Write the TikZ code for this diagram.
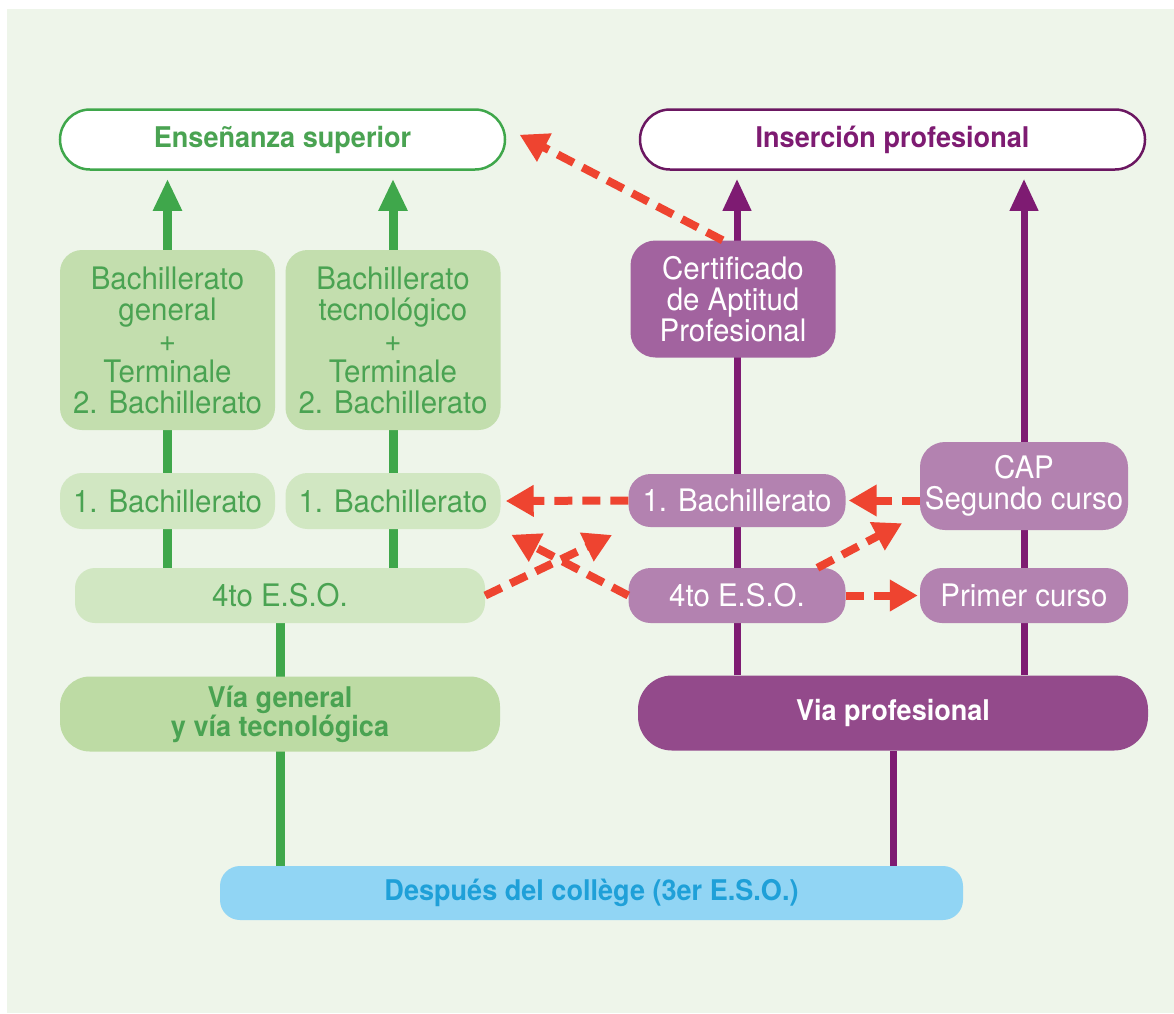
\documentclass[tikz,border=0pt]{standalone}
\usepackage{fontspec}
\setmainfont{TeX Gyre Heros}[FakeStretch=0.95]
\usetikzlibrary{positioning}
\usetikzlibrary{calc}
\usetikzlibrary{arrows.meta, backgrounds}

\definecolor{paper}{HTML}{EEF5EA}
\definecolor{vgreen}{HTML}{3FA74B}
\definecolor{tgreen}{HTML}{4AA352}
\definecolor{gbig}{HTML}{C3DEAE}
\definecolor{gsmall}{HTML}{D1E7C2}
\definecolor{gvia}{HTML}{BDDBA4}
\definecolor{vpurple}{HTML}{7E1B72}
\definecolor{pcert}{HTML}{A2639F}
\definecolor{plight}{HTML}{B382B0}
\definecolor{pvia}{HTML}{934A8B}
\definecolor{lblue}{HTML}{91D5F4}
\definecolor{tblue}{HTML}{1FA0D8}
\definecolor{vred}{HTML}{EE4430}

\tikzset{
  box/.style={rounded corners=22pt, inner sep=0pt, align=center, font=\fontsize{31}{31}\selectfont},
  bold/.style={font=\fontsize{28.5}{29}\selectfont\bfseries},
  goal/.style={box, bold, fill=white, line width=2.5pt, rounded corners=30pt, minimum height=60pt},
  greenbox/.style={box, text=tgreen},
  purplebox/.style={box, fill=plight, text=white},
  gline/.style={draw=vgreen, line width=9pt},
  pline/.style={draw=vpurple, line width=7pt},
  uparrow/.style={-{Triangle[width=27pt,length=32pt]}, shorten >=8pt},
  redarrow/.style={draw=vred, line width=8pt, dash pattern=on 18pt off 10pt, -{Triangle[width=30pt,length=28pt]}}
}

\begin{document}
\begin{tikzpicture}[x=1pt, y=-1pt]
    \useasboundingbox (0,0) rectangle (1174,1013);

    % where the two ways lead
    \node (sup) [goal, draw=vgreen, text=tgreen, minimum width=445pt] at (282.5,139.5) {Enseñanza superior};
    \node (ins) [goal, draw=vpurple!85!black, text=vpurple, minimum width=505pt] at (892.5,139.5) {Inserción profesional};

    % general and technological way
    \node (bgen) [greenbox, fill=gbig, minimum width=215pt, minimum height=180pt] at (167.5,340) {Bachillerato\\general\\+\\Terminale\\2. Bachillerato};
    \node (btec) [greenbox, fill=gbig, minimum width=215pt, minimum height=180pt] at (393,340) {Bachillerato\\tecnológico\\+\\Terminale\\2. Bachillerato};
    \node (b1a) [greenbox, fill=gsmall, minimum width=215pt, minimum height=56pt] at (167.5,501) {1. Bachillerato};
    \node (b1b) [greenbox, fill=gsmall, minimum width=215pt, minimum height=56pt] at (393,501) {1. Bachillerato};
    \node (esog) [greenbox, fill=gsmall, rounded corners=20pt, minimum width=410pt, minimum height=55pt] at (280,595.5) {4to E.S.O.};
    \node (vgen) [greenbox, bold, fill=gvia, rounded corners=30pt, minimum width=440pt, minimum height=75pt] at (280,714) {Vía general\\y vía tecnológica};

    % professional way
    \node (cert) [purplebox, fill=pcert, rounded corners=25pt, minimum width=205pt, minimum height=117pt] at (733,299) {Certificado\\de Aptitud\\Profesional};
    \node (p1b) [purplebox, minimum width=217pt, minimum height=53pt] at (737,500.5) {1. Bachillerato};
    \node (peso) [purplebox, minimum width=217pt, minimum height=55pt] at (737,595.5) {4to E.S.O.};
    \node (cap) [purplebox, rounded corners=25pt, minimum width=208pt, minimum height=88pt] at (1024,486) {CAP\\Segundo curso};
    \node (prim) [purplebox, minimum width=208pt, minimum height=55pt] at (1024,595.5) {Primer curso};
    \node (vprof) [box, bold, fill=pvia, text=white, rounded corners=34pt, minimum width=510pt, minimum height=75pt] at (893,713) {Via profesional};

    % starting point
    \node (start) [box, bold, fill=lblue, text=tblue, rounded corners=20pt, minimum width=743pt, minimum height=54pt] at (591.5,893) {Después del collège (3er E.S.O.)};

    \begin{pgfonlayer}{background}
        \fill[paper] (7,9) rectangle (1174,1013);
        % green columns
        \draw[gline] (start.north -| vgen) -- (esog.south);
        \draw[gline, uparrow] (esog.north -| b1a) -- (sup.south -| b1a);
        \draw[gline, uparrow] (esog.north -| b1b) -- (sup.south -| b1b);
        % purple columns
        \draw[pline] (start.north -| vprof) -- (vprof.south);
        \draw[pline, uparrow] (vprof.north -| p1b) -- (ins.south -| p1b);
        \draw[pline, uparrow] (vprof.north -| prim) -- (ins.south -| prim);
    \end{pgfonlayer}

    % bridges between the ways
    \draw[redarrow, shorten >=15pt] (cert.100) -- (sup.3);
    \draw[redarrow, shorten >=5pt] (p1b.west) -- (b1b.east);
    \draw[redarrow, shorten >=3pt] (cap.west |- p1b) -- (p1b.east);
    \draw[redarrow, shorten >=18pt] (esog.east) -- (p1b.south west);
    \draw[redarrow, shorten >=12pt] (peso.west) -- (b1b.south east);
    \draw[redarrow, shorten >=20pt] (peso.19) -- (cap.195);
    \draw[redarrow, shorten >=2pt] (peso.east) -- (prim.west);

\end{tikzpicture}
\end{document}
